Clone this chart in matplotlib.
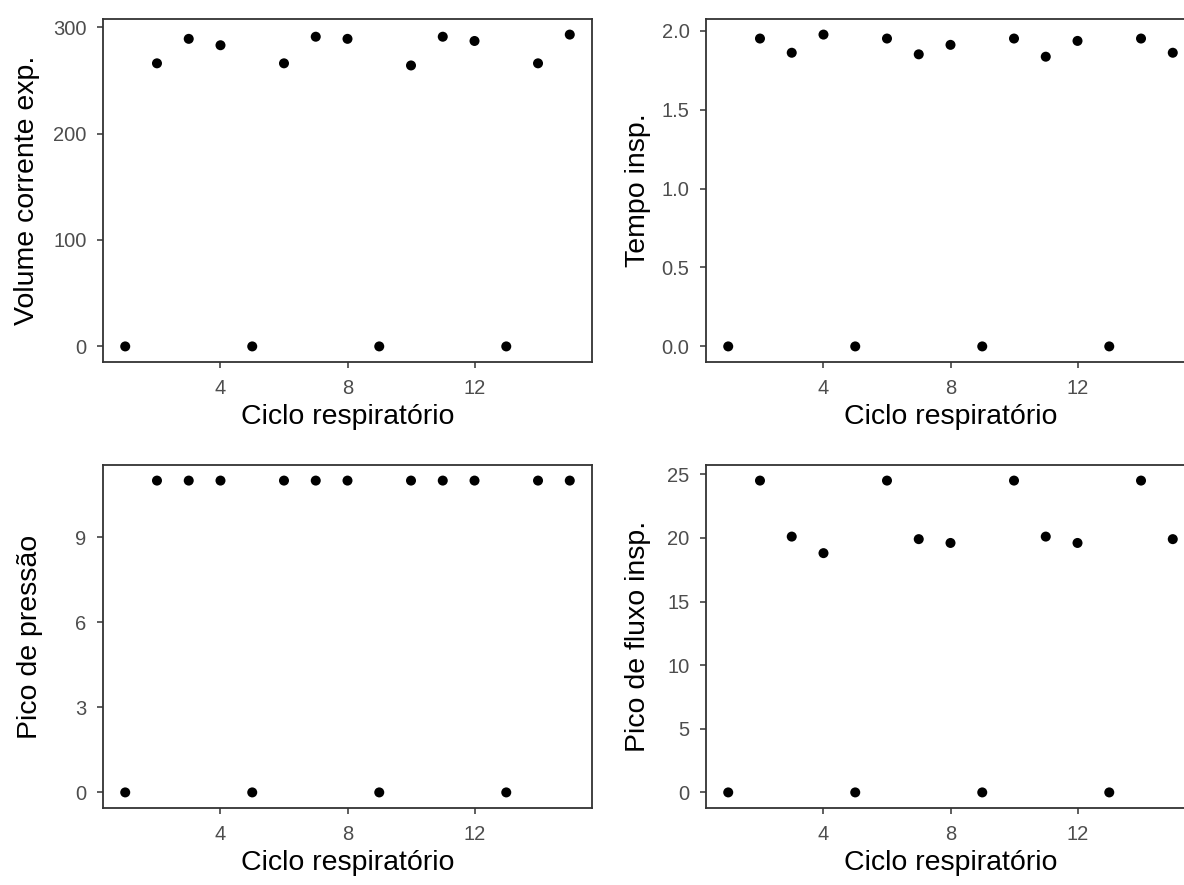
import matplotlib
matplotlib.use('Agg')
import matplotlib.pyplot as plt

# ciclos respiratórios 1..15
ciclo = list(range(1, 16))

volume_corrente = [0, 266, 289, 283, 0, 266, 291, 289, 0, 264, 291, 287, 0, 266, 293]
tempo_insp = [0, 1.95, 1.86, 1.975, 0, 1.95, 1.85, 1.91, 0, 1.95, 1.835, 1.935, 0, 1.95, 1.86]
pico_pressao = [0, 11, 11, 11, 0, 11, 11, 11, 0, 11, 11, 11, 0, 11, 11]
pico_fluxo = [0, 24.5, 20.1, 18.8, 0, 24.5, 19.9, 19.6, 0, 24.5, 20.1, 19.6, 0, 24.5, 19.9]

x_ticks = [4, 8, 12]

paineis = [
    # (dados, rótulo y, ticks y, formato, caixa em px: esq, topo, dir, base, x do rótulo y)
    (volume_corrente, 'Volume corrente exp.', [0, 100, 200, 300], '{:.0f}', (103, 19, 592, 362), 40),
    (tempo_insp, 'Tempo insp.', [0, 0.5, 1.0, 1.5, 2.0], '{:.1f}', (706, 19, 1195, 362), 651),
    (pico_pressao, 'Pico de pressão', [0, 3, 6, 9], '{:.0f}', (103, 465, 592, 808), 43),
    (pico_fluxo, 'Pico de fluxo insp.', [0, 5, 10, 15, 20, 25], '{:.0f}', (706, 465, 1195, 808), 651),
]

W, H = 1184, 885
plt.rcParams['font.family'] = ['Liberation Sans', 'DejaVu Sans']
fig = plt.figure(figsize=(W / 100, H / 100), dpi=100)
fig.patch.set_facecolor('white')

for dados, ylab, yt, fmt, (l, t, r, b), ylab_x in paineis:
    ax = fig.add_axes([l / W, 1 - b / H, (r - l) / W, (b - t) / H])
    ax.scatter(ciclo, dados, s=52, color='black', edgecolors='none', zorder=3)
    # expansão de 5% como no ggplot
    xmin, xmax = min(ciclo), max(ciclo)
    dx = (xmax - xmin) * 0.05
    ax.set_xlim(xmin - dx, xmax + dx)
    ymin, ymax = min(dados), max(dados)
    dy = (ymax - ymin) * 0.05
    ax.set_ylim(ymin - dy, ymax + dy)
    ax.set_xticks(x_ticks)
    ax.set_xticklabels([str(v) for v in x_ticks])
    ax.set_yticks(yt)
    ax.set_yticklabels([fmt.format(v) for v in yt])
    ax.tick_params(colors='#333333', labelcolor='#4D4D4D', labelsize=14.5,
                   length=4.3, width=1.1)
    ax.tick_params(axis='x', pad=8)
    ax.tick_params(axis='y', pad=7.5)
    for s in ax.spines.values():
        s.set_color('#333333')
        s.set_linewidth(1.3)
    ax.set_xlabel('Ciclo respiratório', fontsize=20.5, color='black', labelpad=4)
    ax.set_ylabel(ylab, fontsize=20.5, color='black')
    ax.yaxis.set_label_coords((ylab_x - l) / (r - l), 0.5)

plt.savefig('out.png', dpi=100, facecolor='white')
plt.close()
